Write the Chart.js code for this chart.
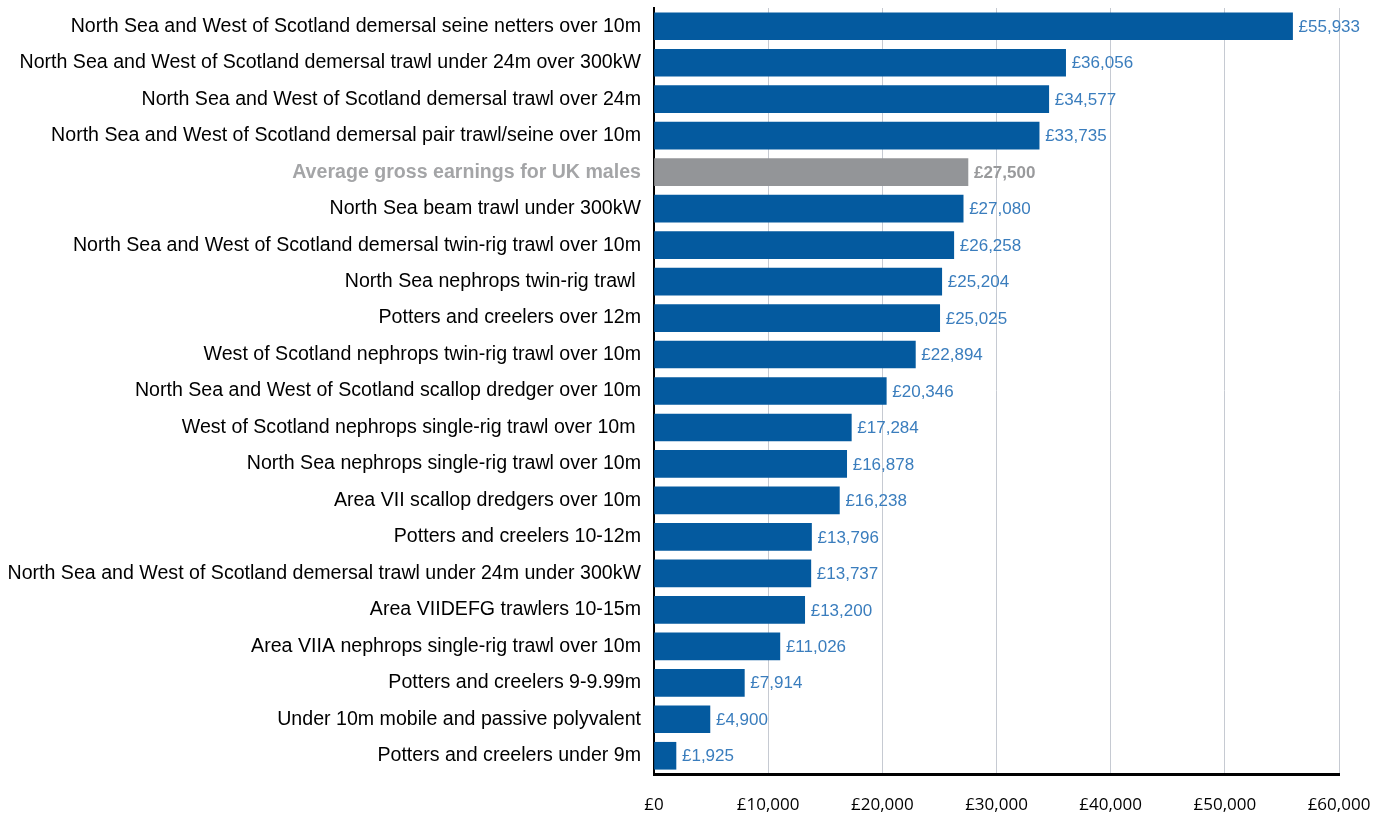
<!DOCTYPE html>
<html>
<head>
<meta charset="utf-8">
<script src="https://cdn.jsdelivr.net/npm/chart.js@4"></script>
<style>
  body { margin: 0; background: #fff; }
  #wrap { width: 1389px; height: 816px; }
</style>
</head>
<body>
<div id="wrap"><canvas id="chart"></canvas></div>
<script>
// categories, top to bottom
const categories = [
  "North Sea and West of Scotland demersal seine netters over 10m",
  "North Sea and West of Scotland demersal trawl under 24m over 300kW",
  "North Sea and West of Scotland demersal trawl over 24m",
  "North Sea and West of Scotland demersal pair trawl/seine over 10m",
  "Average gross earnings for UK males",
  "North Sea beam trawl under 300kW",
  "North Sea and West of Scotland demersal twin-rig trawl over 10m",
  "North Sea nephrops twin-rig trawl ",
  "Potters and creelers over 12m",
  "West of Scotland nephrops twin-rig trawl over 10m",
  "North Sea and West of Scotland scallop dredger over 10m",
  "West of Scotland nephrops single-rig trawl over 10m ",
  "North Sea nephrops single-rig trawl over 10m",
  "Area VII scallop dredgers over 10m",
  "Potters and creelers 10-12m",
  "North Sea and West of Scotland demersal trawl under 24m under 300kW",
  "Area VIIDEFG trawlers 10-15m",
  "Area VIIA nephrops single-rig trawl over 10m",
  "Potters and creelers 9-9.99m",
  "Under 10m mobile and passive polyvalent",
  "Potters and creelers under 9m"
];

// earnings per crew member (£)
const earnings = [55933, 36056, 34577, 33735, 27500, 27080, 26258, 25204, 25025, 22894,
  20346, 17284, 16878, 16238, 13796, 13737, 13200, 11026, 7914, 4900, 1925];

// index of the UK average bar
const averageIndex = 4;

const xTicks = [0, 10000, 20000, 30000, 40000, 50000, 60000];

const blue = "#045a9f";
const grey = "#939598";

const fmt = v => "£" + v.toLocaleString("en-GB");

// draw value labels at end of bars
const valueLabels = {
  id: "valueLabels",
  afterDatasetsDraw(chart) {
    const ctx = chart.ctx;
    const meta = chart.getDatasetMeta(0);
    ctx.save();
    ctx.textBaseline = "middle";
    ctx.textAlign = "left";
    meta.data.forEach((bar, i) => {
      if (i === averageIndex) {
        ctx.font = "bold 17px 'Liberation Sans', Arial, sans-serif";
        ctx.fillStyle = "#999a9c";
      } else {
        ctx.font = "17px 'Liberation Sans', Arial, sans-serif";
        ctx.fillStyle = "#3a7dbd";
      }
      ctx.fillText(fmt(earnings[i]), bar.x + 6, bar.y + 1);
    });
    ctx.restore();
  }
};

new Chart(document.getElementById("chart"), {
  type: "bar",
  data: {
    labels: categories,
    datasets: [{
      data: earnings,
      backgroundColor: earnings.map((v, i) => i === averageIndex ? grey : blue),
      barThickness: 27,
      borderWidth: 0
    }]
  },
  options: {
    indexAxis: "y",
    responsive: true,
    maintainAspectRatio: false,
    animation: false,
    layout: { padding: { top: 8, right: 50, left: 0, bottom: 0 } },
    plugins: {
      legend: { display: false },
      tooltip: { enabled: false }
    },
    scales: {
      x: {
        min: 0,
        max: 60000,
        afterBuildTicks: scale => { scale.ticks = xTicks.map(v => ({ value: v })); },
        afterFit: scale => {
          scale.height = 42;
          scale.paddingLeft = 0;
          scale.paddingRight = 0;
        },
        grid: { color: "#c6cad2", lineWidth: 1, drawTicks: false },
        border: { display: true, color: "#000", width: 3 },
        ticks: {
          padding: 21,
          color: "#000",
          font: { family: "'Open Sans', sans-serif", size: 17 },
          callback: v => fmt(v)
        }
      },
      y: {
        afterFit: scale => {
          scale.width = 654;
          scale.paddingTop = 0;
          scale.paddingBottom = 0;
        },
        grid: { display: false, drawTicks: false },
        border: { display: true, color: "#000", width: 2 },
        ticks: {
          padding: 13,
          autoSkip: false,
          color: ctx => ctx.index === averageIndex ? "#a4a5a7" : "#000",
          font: ctx => ctx.index === averageIndex
            ? { family: "'Liberation Sans', Arial, sans-serif", size: 19.6, weight: "bold" }
            : { family: "'Liberation Sans', Arial, sans-serif", size: 19.6 }
        }
      }
    }
  },
  plugins: [valueLabels]
});
</script>
</body>
</html>
